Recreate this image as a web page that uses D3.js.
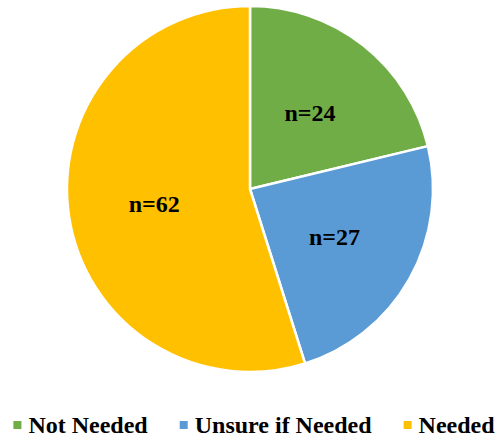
<!DOCTYPE html>
<html>
<head>
<meta charset="utf-8">
<script src="https://cdn.jsdelivr.net/npm/d3@7"></script>
<style>
  body { margin: 0; background: #fff; }
  svg { display: block; }
  text { font-family: "Liberation Serif", "Times New Roman", Times, serif; font-weight: bold; }
</style>
</head>
<body>
<div id="chart"></div>
<script>
const categories = ["Not Needed", "Unsure if Needed", "Needed"];
const counts = [24, 27, 62];
const colors = ["#70AD47", "#5B9BD5", "#FFC000"];

const w = 502;
const h = 441;
const cx = 250;
const cy = 189;
const r = 183;

const data = categories.map((c, i) => ({ name: c, value: counts[i], color: colors[i] }));

const svg = d3.select("#chart")
  .append("svg")
  .attr("width", w)
  .attr("height", h);

const pie = d3.pie()
  .value((d) => d.value)
  .sort(null);

const arc = d3.arc()
  .innerRadius(0)
  .outerRadius(r);

// labels sit about half way out
const labelArc = d3.arc()
  .innerRadius(r * 0.53)
  .outerRadius(r * 0.53);

const g = svg.append("g")
  .attr("transform", `translate(${cx}, ${cy})`);

const arcs = pie(data);

g.selectAll("path")
  .data(arcs)
  .enter()
  .append("path")
  .attr("d", arc)
  .attr("fill", (d) => d.data.color)
  .attr("stroke", "#fff")
  .attr("stroke-width", 2.5)
  .attr("stroke-linejoin", "round");

g.selectAll("text")
  .data(arcs)
  .enter()
  .append("text")
  .attr("x", (d) => labelArc.centroid(d)[0])
  .attr("y", (d) => labelArc.centroid(d)[1])
  .attr("dy", "0.35em")
  .attr("text-anchor", "middle")
  .attr("font-size", 24)
  .attr("fill", "#000")
  .text((d) => `n=${d.data.value}`);

// legend
const legend = svg.append("g");
const items = legend.selectAll("g")
  .data(data)
  .enter()
  .append("g");

items.append("rect")
  .attr("width", 8)
  .attr("height", 8)
  .attr("y", -4)
  .attr("fill", (d) => d.color);

items.append("text")
  .attr("x", 15)
  .attr("y", 8)
  .attr("font-size", 24)
  .attr("fill", "#000")
  .text((d) => d.name);

let xPos = 0;
items.each(function () {
  const item = d3.select(this);
  item.attr("transform", `translate(${xPos}, 0)`);
  const tw = item.select("text").node().getComputedTextLength();
  xPos += 15 + tw + 32;
});
const totalW = xPos - 32;
legend.attr("transform", `translate(${254 - totalW / 2}, 425)`);
</script>
</body>
</html>
